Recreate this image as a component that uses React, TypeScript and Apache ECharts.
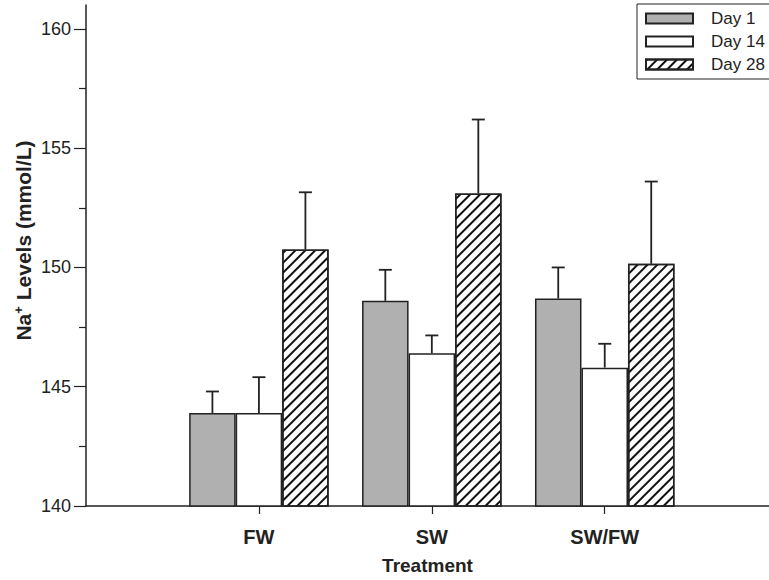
import React, { useEffect, useRef } from "react";
import * as echarts from "echarts";

const categories = ["FW", "SW", "SW/FW"];
const seriesNames = ["Day 1", "Day 14", "Day 28"];
const day1 = [143.9, 148.6, 148.7];
const day1Err = [0.9, 1.3, 1.3];
const day14 = [143.9, 146.4, 145.8];
const day14Err = [1.5, 0.75, 1.0];
const day28 = [150.75, 153.1, 150.15];
const day28Err = [2.4, 3.1, 3.45];
const yMajorTicks = [140, 145, 150, 155, 160];
const yMinorTicks = [142.5, 147.5, 152.5, 157.5];
const xTicks = [1, 2, 3];

const FONT = "'Liberation Sans', Arial, sans-serif";
const INK = "#222";
const BAR_W = 46.5;

export default function App() {
  const ref = useRef<HTMLDivElement>(null);
  useEffect(() => {
    document.body.style.margin = "0";
    const chart = echarts.init(ref.current!, null, { renderer: "svg" });
    const values = [day1, day14, day28];
    const errs = [day1Err, day14Err, day28Err];
    const styles: any[] = [
      { color: "#b0b0b0", borderColor: INK, borderWidth: 1.5 },
      { color: "#ffffff", borderColor: INK, borderWidth: 1.5 },
      {
        color: "#ffffff",
        borderColor: INK,
        borderWidth: 1.5,
        decal: {
          symbol: "rect",
          symbolSize: 1,
          dashArrayX: [1, 0],
          dashArrayY: [2, 4.5],
          rotation: -Math.PI / 4,
          color: "#111",
        },
      },
    ];
    const barSeries = values.map((vals, s) => ({
      type: "bar",
      name: seriesNames[s],
      data: categories.map((_, i) => [i + 1, vals[i]]),
      barWidth: BAR_W,
      barGap: "0%",
      itemStyle: styles[s],
      emphasis: { disabled: true },
      z: 2,
    }));
    const errSeries = values.map((vals, s) => ({
      type: "custom",
      name: seriesNames[s] + " err",
      data: categories.map((_, i) => [i + 1, vals[i], errs[s][i]]),
      encode: { x: 0, y: 1 },
      z: 3,
      renderItem: (params: any, api: any) => {
        const x = api.value(0);
        const y = api.value(1);
        const e = api.value(2);
        const p0 = api.coord([x, y]);
        const p1 = api.coord([x, y + e]);
        const cx = p0[0] + (s - 1) * BAR_W;
        const st = { stroke: INK, lineWidth: 1.8 };
        return {
          type: "group",
          children: [
            { type: "line", shape: { x1: cx, y1: p0[1], x2: cx, y2: p1[1] }, style: st },
            { type: "line", shape: { x1: cx - 6.5, y1: p1[1], x2: cx + 6.5, y2: p1[1] }, style: st },
          ],
        };
      },
    }));
    chart.setOption({
      animation: false,
      backgroundColor: "#fff",
      textStyle: { fontFamily: FONT },
      grid: { left: 86, right: 0, top: 5, bottom: 74, containLabel: false, outerBoundsMode: "none" },
      legend: {
        data: seriesNames.map((n) => ({ name: n, icon: "rect" })),
        orient: "vertical",
        left: 637,
        top: 4,
        padding: [6, 20, 6, 8],
        itemWidth: 47,
        itemHeight: 10,
        itemGap: 6,
        borderColor: INK,
        borderWidth: 1,
        backgroundColor: "#fff",
        selectedMode: false,
        textStyle: { fontSize: 17, color: INK, fontFamily: FONT, padding: [0, 0, 0, 13] },
      },
      xAxis: {
        type: "value",
        min: 0,
        max: 3.95,
        splitLine: { show: false },
        axisLine: { show: true, lineStyle: { color: INK, width: 1.5 } },
        axisTick: { show: true, customValues: xTicks, length: 8, lineStyle: { color: INK, width: 1.2 } },
        axisLabel: {
          customValues: xTicks,
          formatter: (v: number) => categories[Math.round(v) - 1] ?? "",
          fontSize: 20,
          fontWeight: "bold",
          color: INK,
          margin: 21,
          fontFamily: FONT,
        },
        name: "Treatment",
        nameLocation: "middle",
        nameGap: 50,
        nameMoveOverlap: false,
        nameTextStyle: { fontSize: 19, fontWeight: "bold", color: INK, fontFamily: FONT },
      },
      yAxis: [
        {
          type: "value",
          min: 140,
          max: 161,
          splitLine: { show: false },
          axisLine: { show: true, lineStyle: { color: INK, width: 1.5 } },
          axisTick: { show: true, customValues: yMajorTicks, length: 12, lineStyle: { color: INK, width: 1.2 } },
          axisLabel: {
            customValues: yMajorTicks,
            fontSize: 18,
            color: INK,
            margin: 15,
            fontFamily: FONT,
          },
          name: "{a|Na}{s|+}{a| Levels (mmol/L)}",
          nameLocation: "middle",
          nameGap: 51,
          nameMoveOverlap: false,
          nameTextStyle: {
            padding: [0, 0, 0, 30],
            rich: {
              a: { fontSize: 21, fontWeight: "bold", color: INK, fontFamily: FONT },
              s: { fontSize: 13, fontWeight: "bold", color: INK, fontFamily: FONT, verticalAlign: "top", padding: [0, 0, 10, 0] },
            },
          },
        },
        {
          type: "value",
          min: 140,
          max: 161,
          position: "left",
          splitLine: { show: false },
          axisLine: { show: false },
          axisLabel: { show: false },
          axisTick: { show: true, customValues: yMinorTicks, length: 7, lineStyle: { color: INK, width: 1.2 } },
        },
      ],
      series: [...barSeries, ...errSeries],
    });
    return () => chart.dispose();
  }, []);
  return <div ref={ref} style={{ width: 769, height: 580 }} />;
}
